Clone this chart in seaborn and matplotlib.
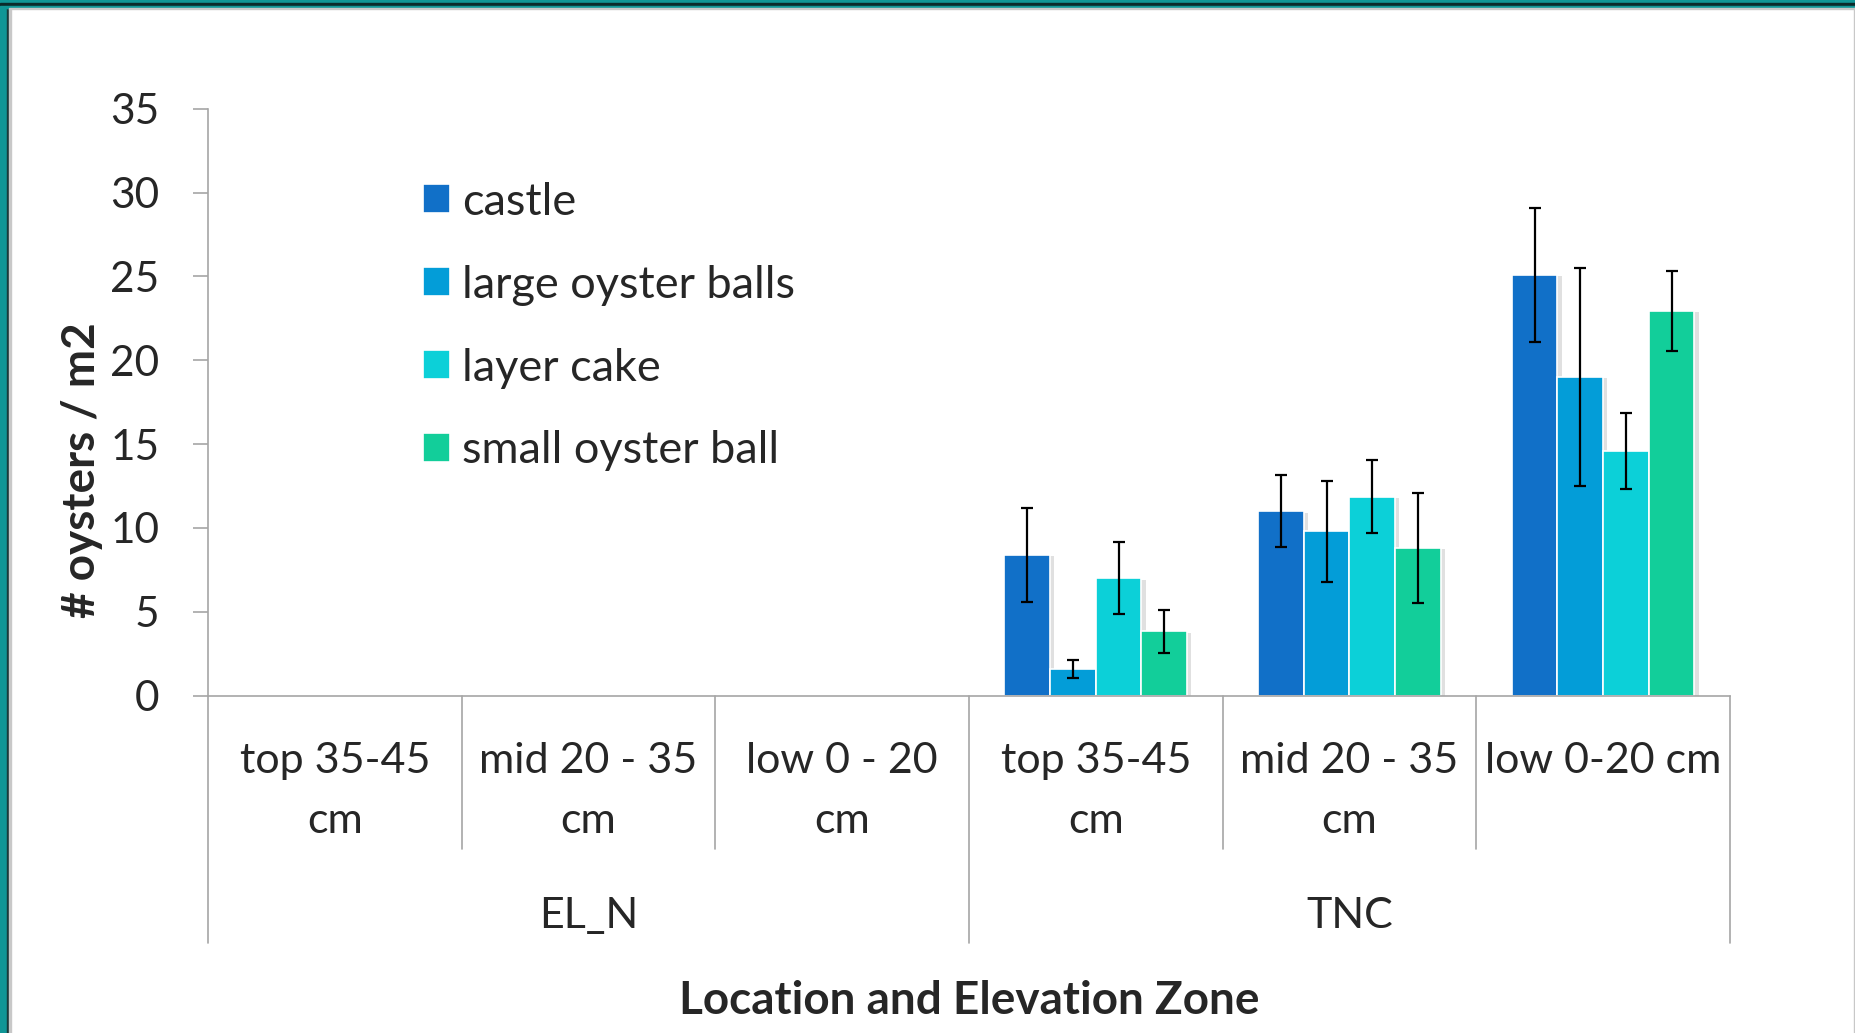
import numpy as np
import pandas as pd
import matplotlib
matplotlib.use("Agg")
import matplotlib.pyplot as plt
import matplotlib.patheffects as pe
from matplotlib.patches import Rectangle
import seaborn as sns

# ── Data ────────────────────────────────────────────────────────
ZONE_KEYS   = ["EL_N top", "EL_N mid", "EL_N low", "TNC top", "TNC mid", "TNC low"]
ZONE_LABELS = ["top 35-45\ncm", "mid 20 - 35\ncm", "low 0 - 20\ncm",
               "top 35-45\ncm", "mid 20 - 35\ncm", "low 0-20 cm"]
SITES       = ["EL_N", "TNC"]
STRUCTURES  = ["castle", "large oyster balls", "layer cake", "small oyster ball"]

castle           = [0, 0, 0, 8.4, 11.0, 25.1]
castle_err       = [0, 0, 0, 2.8, 2.15, 4.0]
large_balls      = [0, 0, 0, 1.6, 9.8, 19.0]
large_balls_err  = [0, 0, 0, 0.52, 3.0, 6.5]
layer_cake       = [0, 0, 0, 7.0, 11.85, 14.6]
layer_cake_err   = [0, 0, 0, 2.14, 2.18, 2.28]
small_ball       = [0, 0, 0, 3.83, 8.8, 22.95]
small_ball_err   = [0, 0, 0, 1.27, 3.3, 2.37]

COLORS = {"castle": "#1170C8", "large oyster balls": "#039DD8",
          "layer cake": "#0CD0D8", "small oyster ball": "#12CE9A"}
GRID_GRAY = "#A6A6A6"
TEAL = "#109696"

values = {"castle": castle, "large oyster balls": large_balls,
          "layer cake": layer_cake, "small oyster ball": small_ball}
errors = {"castle": castle_err, "large oyster balls": large_balls_err,
          "layer cake": layer_cake_err, "small oyster ball": small_ball_err}

rows = []
for s in STRUCTURES:
    for z, v, e in zip(ZONE_KEYS, values[s], errors[s]):
        rows.append({"zone": z, "structure": s, "density": v, "err": e})
df = pd.DataFrame(rows)

# ── Plot ────────────────────────────────────────────────────────
sns.set_theme(style="white")
plt.rcParams["font.family"] = ["Lato", "DejaVu Sans"]

fig = plt.figure(figsize=(18.55, 10.33), dpi=100)
ax = fig.add_axes([0.1121, 0.3266, 0.8205, 0.5681])

sns.barplot(data=df, x="zone", y="density", hue="structure",
            order=ZONE_KEYS, hue_order=STRUCTURES, palette=COLORS,
            errorbar=None, width=0.72, gap=0, saturation=1,
            edgecolor="white", linewidth=1.2, ax=ax)

shadow = [pe.SimplePatchShadow(offset=(3, -1), shadow_rgbFace="#9a9a9a", alpha=0.3),
          pe.Normal()]
for container, s in zip(ax.containers, STRUCTURES):
    xs, ys, es = [], [], []
    for bar, v, e in zip(container, values[s], errors[s]):
        if v > 0:
            bar.set_path_effects(shadow)
        if e > 0:
            xs.append(bar.get_x() + bar.get_width() / 2)
            ys.append(v)
            es.append(e)
    ax.errorbar(xs, ys, yerr=es, fmt="none", ecolor="black",
                elinewidth=1.6, capsize=4, capthick=1.6, zorder=5)

ax.set_ylim(0, 35)
ax.set_yticks(range(0, 36, 5))
ax.set_xlim(-0.5, len(ZONE_KEYS) - 0.5)
ax.tick_params(axis="y", direction="out", length=11, width=1.2,
               color=GRID_GRAY, labelsize=30.5, pad=24, left=True)
ax.tick_params(axis="x", length=0, labelbottom=False)
ax.spines[["top", "right"]].set_visible(False)
for sp in ["left", "bottom"]:
    ax.spines[sp].set_color(GRID_GRAY)
    ax.spines[sp].set_linewidth(1.2)

# category labels and separators below the axis
xt = ax.get_xaxis_transform()
for i, lbl in enumerate(ZONE_LABELS):
    ax.text(i, -0.079, lbl, transform=xt, ha="center", va="top",
            fontsize=31, linespacing=1.7)
for b in np.arange(-0.5, len(ZONE_KEYS), 1.0):
    long_line = b in (-0.5, 2.5, len(ZONE_KEYS) - 0.5)
    ax.plot([b, b], [0, -0.421 if long_line else -0.262], transform=xt,
            color=GRID_GRAY, linewidth=1.2, clip_on=False)
for j, site in enumerate(SITES):
    ax.text(3 * j + 1, -0.375, site, transform=xt, ha="center", va="center",
            fontsize=31)

ax.set_ylabel("# oysters / m2", fontsize=33, fontweight="bold")
ax.yaxis.set_label_coords(-0.083, 0.385)
ax.yaxis.label.set_va("center")
ax.set_xlabel("Location and Elevation Zone", fontsize=33, fontweight="bold")
ax.xaxis.set_label_coords(0.5, -0.52)
ax.xaxis.label.set_va("center")

handles, labels = ax.get_legend_handles_labels()
ax.legend(handles, labels, loc="upper left", bbox_to_anchor=(0.141, 0.876),
          frameon=False, fontsize=32.5, handlelength=0.6, handleheight=0.6,
          handletextpad=0.28, labelspacing=0.93, borderpad=0, borderaxespad=0)

# slide frame (teal border at left and top)
W, H = fig.get_size_inches() * fig.dpi
def frame(x, y, w, h, c):
    fig.patches.append(Rectangle((x / W, 1 - (y + h) / H), w / W, h / H,
                                 transform=fig.transFigure, color=c, zorder=0))
frame(0, 0, 7, H, TEAL)
frame(7, 0, 1.5, H, "#1a3a3a")
frame(8.5, 0, 2, H, "#c8c8c8")
frame(0, 0, W, 3, TEAL)
frame(0, 3, W, 3, "#0b2a2a")
frame(0, 6, W, 1.5, TEAL)
frame(8.5, 7.5, W, 1.5, "#c8c8c8")
frame(W - 1.5, 7.5, 1.5, H, "#c8c8c8")

fig.savefig("out.png", dpi=100)
plt.close(fig)
